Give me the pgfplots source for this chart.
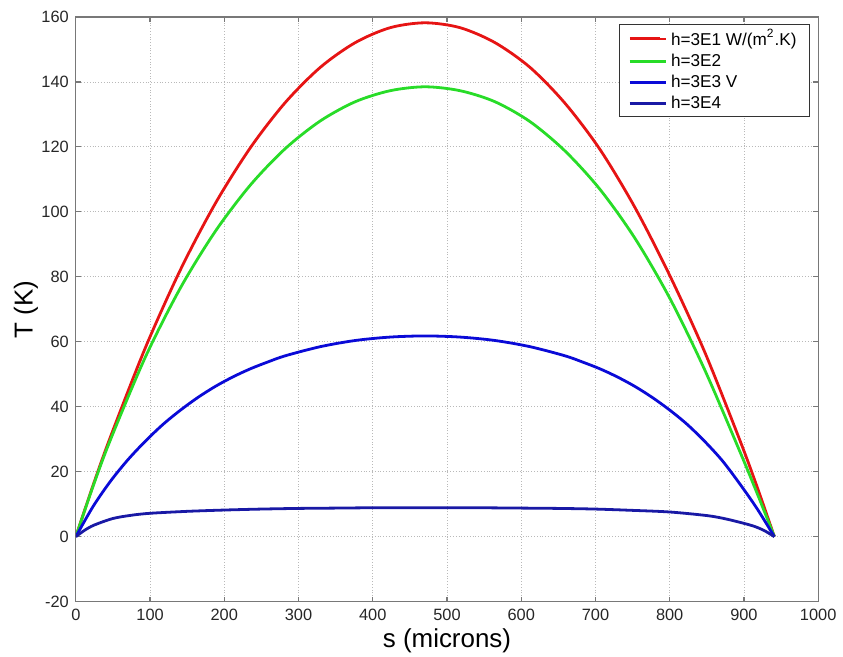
\documentclass[border=0pt]{standalone}
\usepackage{fontspec}
\setmainfont{Liberation Sans}
\usepackage{pgfplots}
\pgfplotsset{compat=1.18}
\definecolor{cred}{RGB}{230,20,20}
\definecolor{cgreen}{RGB}{40,220,40}
\definecolor{cblue}{RGB}{10,10,215}
\definecolor{cnavy}{RGB}{25,25,165}
\definecolor{axgray}{RGB}{120,120,120}

\begin{document}
\begin{tikzpicture}
\begin{axis}[
    name=ax,
    scale only axis,
    width=372pt, height=293pt,
    xmin=0, xmax=1000, ymin=-20, ymax=160,
    xtick={0,100,...,1000},
    ytick={-20,0,...,160},
    grid=major,
    grid style={densely dotted, gray!55, line width=0.4pt},
    axis line style={axgray, line width=0.6pt},
    tick style={axgray, line width=0.6pt},
    major tick length=2.5pt,
    tick align=inside,
    /pgf/number format/assume math mode=true,
    /pgf/number format/1000 sep={},
    ticklabel style={font=\fontsize{8.2}{9.8}\selectfont, text=black!85},
    xlabel={s (microns)},
    ylabel={T (K)},
    every axis x label/.style={at={(rel axis cs:0.5,-0.0666)}, anchor=center, inner sep=0pt,
        font=\fontsize{13}{15}\selectfont},
    every axis y label/.style={at={(rel axis cs:-0.0672,0.5)}, rotate=90, anchor=center, inner sep=0pt,
        font=\fontsize{13}{15}\selectfont},
    legend style={at={(rel axis cs:0.989,0.988)}, anchor=north east,
        draw=black!80, line width=0.5pt, fill=white,
        font=\fontsize{8.6}{10}\selectfont,
        row sep=-1.25pt, inner xsep=4.5pt, inner ysep=0.5pt},
    legend cell align=left,
    legend image code/.code={\draw[#1, line width=1.5pt] (0pt,0pt) -- (15pt,0pt); \path (0pt,0pt) -- (18pt,0pt);},
    every axis plot/.append style={line width=1.4pt, smooth},
]
% h = 3E1
\addplot[cred] coordinates {
 (0,0) (23.5,16.0) (47.1,31.0) (94.1,58.4) (141.2,82.3) (188.2,102.7)
 (235.3,119.8) (282.3,133.7) (329.4,144.5) (376.4,152.1) (423.5,156.7)
 (470.5,158.2) (517.6,156.7) (564.6,152.1) (611.7,144.5) (658.7,133.5)
 (705.8,119.3) (752.8,101.5) (799.9,80.5) (846.9,57.0) (894.0,30.0)
 (917.5,15.5) (941,0)
};
\addlegendentry{h=3E1 W/(m\textsuperscript{2}.K)}
% h = 3E2
\addplot[cgreen] coordinates {
 (0,0) (23.5,15.7) (47.1,30.1) (94.1,55.5) (141.2,76.7) (188.2,94.1)
 (235.3,108.3) (282.3,119.5) (329.4,128.0) (376.4,133.9) (423.5,137.3)
 (470.5,138.5) (517.6,137.3) (564.6,133.9) (611.7,127.8) (658.7,118.8)
 (705.8,107.0) (752.8,92.0) (799.9,73.5) (846.9,51.5) (894.0,26.5)
 (917.5,13.5) (941,0)
};
\addlegendentry{h=3E2}
% h = 3E3
\addplot[cblue] coordinates {
 (0,0) (23.5,9.4) (47.1,17.2) (70.6,23.8) (94.1,29.5) (117.6,34.6)
 (141.2,39.0) (164.7,42.9) (188.2,46.3) (211.7,49.2) (235.3,51.7)
 (258.8,53.8) (282.3,55.7) (329.4,58.5) (376.4,60.4) (423.5,61.45)
 (470.5,61.8) (517.6,61.45) (564.6,60.4) (611.7,58.5) (658.7,55.7)
 (682.2,53.8) (705.8,51.7) (729.3,49.2) (752.8,46.3) (776.3,42.9)
 (799.9,39.0) (823.4,34.6) (846.9,29.4) (870.5,23.5) (894.0,16.4)
 (917.5,8.7) (941,0)
};
\addlegendentry{h=3E3 V}
% h = 3E4
\addplot[cnavy] coordinates {
 (0,0) (12,2.0) (25,3.6) (50,5.6) (75,6.6) (100,7.2) (150,7.8) (200,8.2)
 (250,8.5) (300,8.7) (350,8.8) (400,8.9) (470,8.9) (540,8.9) (600,8.8)
 (650,8.7) (700,8.5) (750,8.1) (800,7.6) (850,6.5) (875,5.5) (900,4.1)
 (915,3.1) (928,1.8) (941,0)
};
\addlegendentry{h=3E4}
\end{axis}
\path (ax.south west) ++(-38pt,-27.5pt) coordinate (bbsw);
\path (ax.north east) ++(11.5pt,8.5pt) coordinate (bbne);
\path (bbsw) rectangle (bbne);
\end{tikzpicture}
\end{document}
